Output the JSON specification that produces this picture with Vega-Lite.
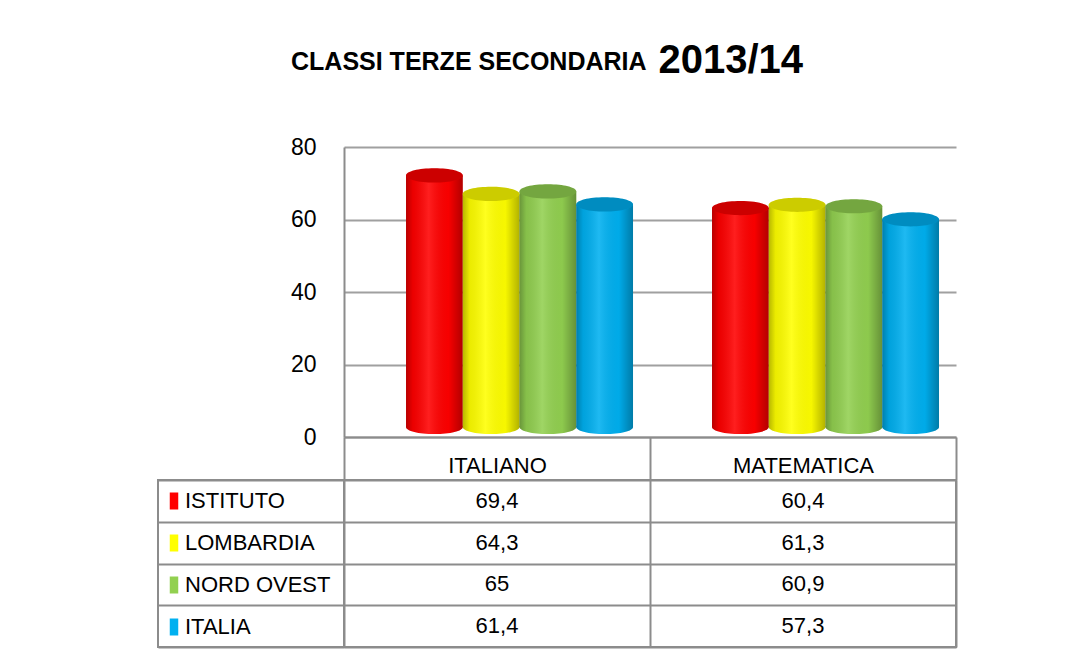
{
  "$schema": "https://vega.github.io/schema/vega-lite/v6.json",
  "background": "white",
  "padding": {"left": 157, "top": 40, "right": 10, "bottom": 10},
  "config": {
    "font": "Liberation Sans",
    "locale": {"number": {"decimal": ",", "thousands": ".", "grouping": [3], "currency": ["", " €"]}},
    "view": {"stroke": null}
  },
  "title": {"text": "CLASSI TERZE SECONDARIA", "fontSize": 25, "fontWeight": "bold", "color": "#000000", "anchor": "start", "frame": "group", "baseline": "alphabetic", "dx": 133, "offset": -55},
  "datasets": {
    "scores": [
      {"materia": "ITALIANO", "serie": "ISTITUTO", "valore": 69.4},
      {"materia": "ITALIANO", "serie": "LOMBARDIA", "valore": 64.3},
      {"materia": "ITALIANO", "serie": "NORD OVEST", "valore": 65},
      {"materia": "ITALIANO", "serie": "ITALIA", "valore": 61.4},
      {"materia": "MATEMATICA", "serie": "ISTITUTO", "valore": 60.4},
      {"materia": "MATEMATICA", "serie": "LOMBARDIA", "valore": 61.3},
      {"materia": "MATEMATICA", "serie": "NORD OVEST", "valore": 60.9},
      {"materia": "MATEMATICA", "serie": "ITALIA", "valore": 57.3}
    ]
  },
  "data": {"name": "scores"},
  "columns": 2,
  "spacing": {"row": 43, "column": 0},
  "bounds": "flush",
  "resolve": {"scale": {"color": "independent", "x": "independent", "y": "independent"}},
  "concat": [
    {
      "width": 186, "height": 290,
      "mark": {"type": "text", "text": ""},
      "encoding": {}
    },
    {
      "width": 612, "height": 290,
      "encoding": {
        "x": {"field": "materia", "type": "nominal", "sort": ["ITALIANO", "MATEMATICA"],
          "scale": {"paddingInner": 0, "paddingOuter": 0}, "axis": null},
        "xOffset": {"field": "serie", "type": "nominal", "sort": ["ISTITUTO", "LOMBARDIA", "NORD OVEST", "ITALIA"],
          "scale": {"paddingInner": 0, "paddingOuter": 0.696, "align": 0.785}},
        "y": {"field": "valore", "type": "quantitative",
          "scale": {"domain": [0, 80], "nice": false},
          "axis": {"title": null, "values": [0, 20, 40, 60, 80], "grid": true, "gridColor": "#a0a0a0", "gridWidth": 2, "ticks": false, "domain": true, "domainColor": "#8c8c8c", "domainWidth": 2, "labelFontSize": 23, "labelColor": "#000000", "labelPadding": 28}}
      },
      "layer": [
        {
          "mark": {"type": "point", "shape": "M -1 0 A 1 0.25 0 1 1 1 0 A 1 0.25 0 1 1 -1 0 Z", "size": 3226, "filled": true, "opacity": 1, "strokeWidth": 0, "yOffset": -10},
          "encoding": {
            "x": {"field": "materia", "type": "nominal", "sort": ["ITALIANO", "MATEMATICA"],
              "scale": {"paddingInner": 0, "paddingOuter": 0},
              "axis": {"title": null, "orient": "bottom", "labelAngle": 0, "labelFontSize": 22, "labelColor": "#000000", "labelBaseline": "middle", "labelPadding": -15, "tickBand": "extent", "tickSize": 43, "tickColor": "#8c8c8c", "tickWidth": 2, "domainColor": "#8c8c8c", "domainWidth": 2, "grid": false}},
            "y": {"datum": 0, "type": "quantitative"},
            "color": {"field": "serie", "type": "nominal", "scale": {"domain": ["ISTITUTO", "LOMBARDIA", "NORD OVEST", "ITALIA"], "range": ["#FF0000", "#FFFF00", "#92D050", "#00B0F0"]}, "legend": null}
          }
        },
        {
          "mark": {"type": "point", "shape": "M -1 0 A 1 0.25 0 1 1 1 0 A 1 0.25 0 1 1 -1 0 Z", "size": 3226, "filled": true, "opacity": 1, "strokeWidth": 0, "yOffset": -10,
            "fill": {"gradient": "linear", "x1": 0, "y1": 0, "x2": 1, "y2": 0, "stops": [{"offset": 0, "color": "rgba(0,0,0,0.28)"}, {"offset": 0.12, "color": "rgba(0,0,0,0.08)"}, {"offset": 0.4, "color": "rgba(255,255,255,0.12)"}, {"offset": 0.75, "color": "rgba(0,0,0,0.03)"}, {"offset": 1, "color": "rgba(0,0,0,0.3)"}]}},
          "encoding": {
            "y": {"datum": 0, "type": "quantitative"}
          }
        },
        {
          "mark": {"type": "bar", "yOffset": -10},
          "encoding": {
            "color": {"field": "serie", "type": "nominal", "scale": {"domain": ["ISTITUTO", "LOMBARDIA", "NORD OVEST", "ITALIA"], "range": ["#FF0000", "#FFFF00", "#92D050", "#00B0F0"]}, "legend": null}
          }
        },
        {
          "mark": {"type": "bar", "yOffset": -10,
            "fill": {"gradient": "linear", "x1": 0, "y1": 0, "x2": 1, "y2": 0, "stops": [{"offset": 0, "color": "rgba(0,0,0,0.28)"}, {"offset": 0.12, "color": "rgba(0,0,0,0.08)"}, {"offset": 0.4, "color": "rgba(255,255,255,0.12)"}, {"offset": 0.75, "color": "rgba(0,0,0,0.03)"}, {"offset": 1, "color": "rgba(0,0,0,0.3)"}]}},
          "encoding": {}
        },
        {
          "mark": {"type": "point", "shape": "M -1 0 A 1 0.25 0 1 1 1 0 A 1 0.25 0 1 1 -1 0 Z", "size": 3226, "filled": true, "opacity": 1, "strokeWidth": 0, "yOffset": -10},
          "encoding": {
            "color": {"field": "serie", "type": "nominal", "scale": {"domain": ["ISTITUTO", "LOMBARDIA", "NORD OVEST", "ITALIA"], "range": ["#FF0000", "#FFFF00", "#92D050", "#00B0F0"]}, "legend": null}
          }
        },
        {
          "mark": {"type": "point", "shape": "M -1 0 A 1 0.25 0 1 1 1 0 A 1 0.25 0 1 1 -1 0 Z", "size": 3226, "filled": true, "opacity": 0.2, "strokeWidth": 0, "yOffset": -10, "fill": "#000000"},
          "encoding": {
            "x": {"field": "materia", "type": "nominal", "sort": ["ITALIANO", "MATEMATICA"],
              "scale": {"paddingInner": 0, "paddingOuter": 0},
              "axis": {"orient": "top", "title": "2013/14", "titleFontSize": 40, "titleFontWeight": "bold", "titleColor": "#000000", "titleAngle": 0, "titleAlign": "left", "titleBaseline": "alphabetic", "titleX": 314, "titleY": -75, "labels": false, "ticks": false, "domain": false, "grid": false}}
          }
        }
      ]
    },
    {
      "width": 186, "height": 167,
      "view": {"stroke": "#8c8c8c", "strokeWidth": 2},
      "mark": {"type": "point", "opacity": 0, "filled": true},
      "encoding": {
        "y": {"field": "serie", "type": "nominal", "sort": ["ISTITUTO", "LOMBARDIA", "NORD OVEST", "ITALIA"],
          "scale": {"paddingInner": 0, "paddingOuter": 0},
          "axis": {"title": null, "labels": false, "ticks": false, "domain": false, "grid": true, "tickBand": "extent", "gridColor": "#8c8c8c", "gridWidth": 2}},
        "color": {"field": "serie", "type": "nominal", "scale": {"domain": ["ISTITUTO", "LOMBARDIA", "NORD OVEST", "ITALIA"], "range": ["#FF0000", "#FFFF00", "#92D050", "#00B0F0"]},
          "legend": {"orient": "none", "legendX": 5, "legendY": 10, "title": null, "padding": 0, "symbolType": "M -0.5 -1 L 0.5 -1 L 0.5 1 L -0.5 1 Z", "symbolSize": 289, "symbolOpacity": 1, "symbolStrokeWidth": 0, "labelFontSize": 22, "labelColor": "#000000", "labelOffset": 0, "rowPadding": 20, "labelLimit": 200}}
      }
    },
    {
      "width": 612, "height": 167,
      "view": {"stroke": "#8c8c8c", "strokeWidth": 2},
      "mark": {"type": "text", "fontSize": 22, "baseline": "middle", "color": "#000000"},
      "encoding": {
        "x": {"field": "materia", "type": "nominal", "sort": ["ITALIANO", "MATEMATICA"],
          "scale": {"paddingInner": 0, "paddingOuter": 0},
          "axis": {"title": null, "labels": false, "ticks": false, "domain": false, "grid": true, "tickBand": "extent", "gridColor": "#8c8c8c", "gridWidth": 2}},
        "y": {"field": "serie", "type": "nominal", "sort": ["ISTITUTO", "LOMBARDIA", "NORD OVEST", "ITALIA"],
          "scale": {"paddingInner": 0, "paddingOuter": 0},
          "axis": {"title": null, "labels": false, "ticks": false, "domain": false, "grid": true, "tickBand": "extent", "gridColor": "#8c8c8c", "gridWidth": 2}},
        "text": {"field": "valore", "type": "quantitative", "format": "~g"}
      }
    }
  ]
}
